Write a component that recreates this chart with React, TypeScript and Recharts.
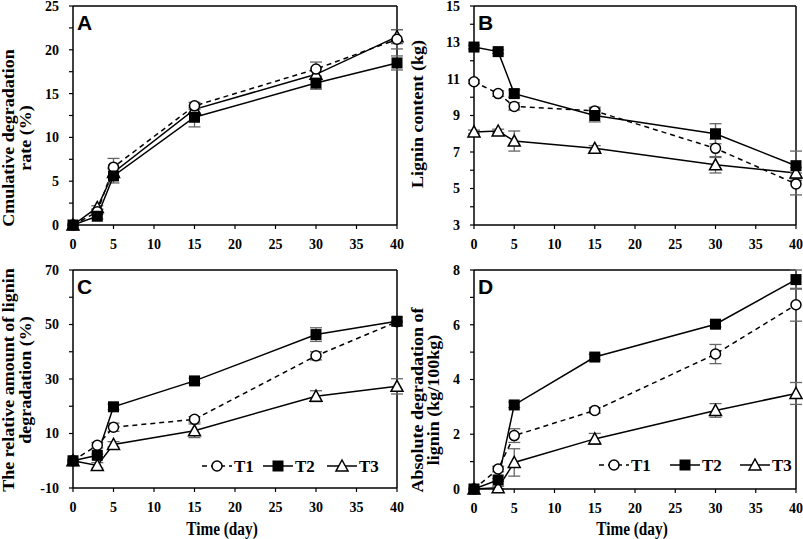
import { ErrorBar, Line, LineChart, ReferenceLine, XAxis, YAxis } from "recharts";

const days = [0, 3, 5, 15, 30, 40];
const dayTicks = [0, 5, 10, 15, 20, 25, 30, 35, 40];
const seriesNames = ["T1", "T2", "T3"];

// A: cumulative degradation rate (%)
const rateT1 = [0, 1.5, 6.6, 13.6, 17.8, 21.2];
const rateT2 = [0, 1.0, 5.6, 12.3, 16.2, 18.5];
const rateT3 = [0, 2.0, 6.0, 13.2, 17.2, 21.5];
const rateT1Err = [0, 0.3, 1.0, 0.4, 0.8, 1.1];
const rateT2Err = [0, 0.3, 0.8, 1.1, 0.7, 0.8];
const rateT3Err = [0, 0.2, 0.5, 0.4, 0.6, 0.8];
const rateTicks = [0, 2.5, 5, 7.5, 10, 12.5, 15, 17.5, 20, 22.5, 25];
const rateLabels = [0, 5, 10, 15, 20, 25];

// B: lignin content (kg)
const ligninT1 = [10.85, 10.2, 9.5, 9.25, 7.2, 5.25];
const ligninT2 = [12.75, 12.5, 10.2, 9.0, 8.0, 6.25];
const ligninT3 = [8.1, 8.15, 7.6, 7.2, 6.3, 5.85];
const ligninT1Err = [0.1, 0.15, 0.2, 0.2, 0.5, 0.6];
const ligninT2Err = [0.1, 0.1, 0.2, 0.35, 0.55, 0.8];
const ligninT3Err = [0.1, 0.1, 0.55, 0.15, 0.45, 0.3];
const ligninTicks = [3, 4, 5, 6, 7, 8, 9, 10, 11, 12, 13, 14, 15];
const ligninLabels = [3, 5, 7, 9, 11, 13, 15];

// C: relative amount of lignin degradation (%)
const relT1 = [0, 5.7, 12.3, 15.2, 38.5, 51.0];
const relT2 = [0, 2.0, 19.8, 29.3, 46.3, 51.2];
const relT3 = [0, -1.7, 6.0, 11.0, 23.7, 27.3];
const relT1Err = [0, 1.0, 1.5, 1.0, 1.5, 1.5];
const relT2Err = [0, 0.5, 1.0, 1.0, 2.5, 1.5];
const relT3Err = [0, 1.0, 1.0, 2.5, 2.0, 2.8];
const relTicks = [-10, 0, 10, 20, 30, 40, 50, 60, 70];
const relLabels = [-10, 10, 30, 50, 70];

// D: absolute degradation of lignin (kg/100kg)
const absT1 = [0, 0.73, 1.95, 2.87, 4.93, 6.73];
const absT2 = [0, 0.33, 3.07, 4.82, 6.02, 7.65];
const absT3 = [0, 0.05, 0.97, 1.83, 2.87, 3.49];
const absT1Err = [0, 0.1, 0.25, 0.1, 0.35, 0.6];
const absT2Err = [0, 0.05, 0.1, 0.1, 0.1, 0.35];
const absT3Err = [0, 0.05, 0.5, 0.2, 0.25, 0.4];
const absTicks = [0, 1, 2, 3, 4, 5, 6, 7, 8];
const absLabels = [0, 2, 4, 6, 8];

const serif = '"Liberation Serif", "Times New Roman", serif';
const sans = '"Liberation Sans", Arial, sans-serif';

const buildRows = (t1: number[], t2: number[], t3: number[], e1: number[], e2: number[], e3: number[]) =>
  days.map((day, i) => ({ day, t1: t1[i], t2: t2[i], t3: t3[i], e1: e1[i], e2: e2[i], e3: e3[i] }));

function Marker({ kind, cx, cy }: { kind: string; cx: number; cy: number }) {
  if (kind === "circle") return <circle cx={cx} cy={cy} r={5} fill="#fff" stroke="#000" strokeWidth={1.5} />;
  if (kind === "square") return <rect x={cx - 5.5} y={cy - 5.5} width={11} height={11} fill="#000" />;
  return (
    <polygon
      points={`${cx},${cy - 6} ${cx - 6},${cy + 5} ${cx + 6},${cy + 5}`}
      fill="#fff"
      stroke="#000"
      strokeWidth={1.5}
    />
  );
}

const kinds = ["circle", "square", "triangle"];

const renderXTick = (p: any) => (
  <text key={p.index} x={p.x} y={p.y} dy="0.71em" textAnchor="middle" fontFamily={serif} fontWeight="bold" fontSize={14} fill="#000">
    {p.payload.value}
  </text>
);

const renderYTick = (p: any, labels: number[]) =>
  labels.includes(p.payload.value) ? (
    <text key={p.index} x={p.x} y={p.y} dy="0.35em" textAnchor="end" fontFamily={serif} fontWeight="bold" fontSize={14} fill="#000">
      {p.payload.value}
    </text>
  ) : (
    <g key={p.index} />
  );

type Box = { left: number; top: number; width: number; height: number };
type Plot = { left: number; top: number; right: number; bottom: number };

function Panel(props: {
  letter: string;
  frame: Box;
  plot: Plot;
  rows: any[];
  domain: [number, number];
  ticks: number[];
  labels: number[];
  keyXs?: number[];
  keyY?: number;
}) {
  const { letter, frame, plot, rows, domain, ticks, labels, keyXs, keyY } = props;
  const yW = 40;
  const xH = 30;
  const margin = {
    left: plot.left - frame.left - yW,
    top: plot.top - frame.top,
    right: frame.left + frame.width - plot.right,
    bottom: frame.top + frame.height - plot.bottom - xH,
  };
  const line = (key: string, idx: number, dash?: string) => (
    <Line
      key={key}
      dataKey={key}
      stroke="#000"
      strokeWidth={1.5}
      strokeDasharray={dash}
      isAnimationActive={false}
      activeDot={false}
      dot={(d: any) => <Marker key={`${key}-${d.index}`} kind={kinds[idx]} cx={d.cx} cy={d.cy} />}
    >
      <ErrorBar dataKey={`e${idx + 1}`} width={6} stroke="#666" strokeWidth={1.3} direction="y" />
    </Line>
  );
  return (
    <div style={{ position: "absolute", left: frame.left, top: frame.top, width: frame.width, height: frame.height }}>
      <LineChart width={frame.width} height={frame.height} data={rows} margin={margin}>
        <XAxis
          dataKey="day"
          type="number"
          domain={[0, 40]}
          ticks={dayTicks}
          interval={0}
          height={xH}
          tickSize={4}
          tickMargin={10}
          axisLine={{ stroke: "#000", strokeWidth: 1.5 }}
          tickLine={{ stroke: "#000", strokeWidth: 1.2 }}
          tick={renderXTick}
        />
        <YAxis
          type="number"
          domain={domain}
          ticks={ticks}
          interval={0}
          width={yW}
          tickSize={4}
          tickMargin={10}
          axisLine={{ stroke: "#000", strokeWidth: 1.5 }}
          tickLine={{ stroke: "#000", strokeWidth: 1.2 }}
          tick={(p: any) => renderYTick(p, labels)}
        />
        <ReferenceLine y={domain[1]} stroke="#000" strokeWidth={1.5} />
        <ReferenceLine x={40} stroke="#000" strokeWidth={1.5} />
        {line("t3", 2)}
        {line("t1", 0, "5 4")}
        {line("t2", 1)}
      </LineChart>
      <div
        style={{
          position: "absolute",
          left: plot.left - frame.left + 4,
          top: plot.top - frame.top + 6,
          fontFamily: sans,
          fontWeight: "bold",
          fontSize: 21,
          lineHeight: "21px",
        }}
      >
        {letter}
      </div>
      {keyXs && keyY !== undefined && (
        <svg
          width={frame.width}
          height={frame.height}
          style={{ position: "absolute", left: 0, top: 0, pointerEvents: "none" }}
        >
          {seriesNames.map((name, i) => {
            const x0 = keyXs[i] - frame.left;
            const y = keyY - frame.top;
            return (
              <g key={name}>
                <line x1={x0} x2={x0 + 30} y1={y} y2={y} stroke="#000" strokeWidth={1.5} strokeDasharray={i === 0 ? "5 4" : undefined} />
                <Marker kind={kinds[i]} cx={x0 + 15} cy={y} />
                <text x={x0 + 32} y={y} dy="0.35em" fontFamily={serif} fontWeight="bold" fontSize={17} fill="#000">
                  {name}
                </text>
              </g>
            );
          })}
        </svg>
      )}
    </div>
  );
}

function YTitle({ lines, cx, cy }: { lines: string[]; cx: number; cy: number }) {
  return (
    <div
      style={{
        position: "absolute",
        left: cx,
        top: cy,
        transform: "translate(-50%, -50%) rotate(-90deg) scaleY(0.9)",
        whiteSpace: "nowrap",
        textAlign: "center",
        fontFamily: serif,
        fontWeight: "bold",
        fontSize: 18,
        lineHeight: "18px",
      }}
    >
      {lines.map((l) => (
        <div key={l}>{l}</div>
      ))}
    </div>
  );
}

function XTitle({ text, cx, cy }: { text: string; cx: number; cy: number }) {
  return (
    <div
      style={{
        position: "absolute",
        left: cx,
        top: cy,
        transform: "translate(-50%, -50%) scaleX(0.85)",
        whiteSpace: "nowrap",
        fontFamily: serif,
        fontWeight: "bold",
        fontSize: 18,
        lineHeight: "18px",
      }}
    >
      {text}
    </div>
  );
}

export default function App() {
  const rateRows = buildRows(rateT1, rateT2, rateT3, rateT1Err, rateT2Err, rateT3Err);
  const ligninRows = buildRows(ligninT1, ligninT2, ligninT3, ligninT1Err, ligninT2Err, ligninT3Err);
  const relRows = buildRows(relT1, relT2, relT3, relT1Err, relT2Err, relT3Err);
  const absRows = buildRows(absT1, absT2, absT3, absT1Err, absT2Err, absT3Err);

  return (
    <div style={{ position: "absolute", left: 0, top: 0, width: 803, height: 539, background: "#fff", overflow: "hidden" }}>
      <Panel
        letter="B"
        frame={{ left: 400, top: 0, width: 403, height: 262 }}
        plot={{ left: 474, top: 6, right: 796, bottom: 225 }}
        rows={ligninRows}
        domain={[3, 15]}
        ticks={ligninTicks}
        labels={ligninLabels}
      />
      <Panel
        letter="D"
        frame={{ left: 400, top: 262, width: 403, height: 277 }}
        plot={{ left: 474, top: 270, right: 796, bottom: 489 }}
        rows={absRows}
        domain={[0, 8]}
        ticks={absTicks}
        labels={absLabels}
        keyXs={[599, 670, 740]}
        keyY={465}
      />
      <Panel
        letter="A"
        frame={{ left: 0, top: 0, width: 412, height: 262 }}
        plot={{ left: 73, top: 6, right: 397, bottom: 225 }}
        rows={rateRows}
        domain={[0, 25]}
        ticks={rateTicks}
        labels={rateLabels}
      />
      <Panel
        letter="C"
        frame={{ left: 0, top: 262, width: 412, height: 277 }}
        plot={{ left: 73, top: 270, right: 397, bottom: 488 }}
        rows={relRows}
        domain={[-10, 70]}
        ticks={relTicks}
        labels={relLabels}
        keyXs={[202, 263, 327]}
        keyY={466}
      />
      <YTitle lines={["Cmulative degradation", "rate (%)"]} cx={17} cy={138} />
      <YTitle lines={["Lignin content (kg)"]} cx={418} cy={114} />
      <YTitle lines={["The relative amount of lignin", "degradation (%)"]} cx={17} cy={380} />
      <YTitle lines={["Absolute degradation of", "lignin (kg/100kg)"]} cx={426} cy={400} />
      <XTitle text="Time (day)" cx={222} cy={529} />
      <XTitle text="Time (day)" cx={632} cy={529} />
    </div>
  );
}
